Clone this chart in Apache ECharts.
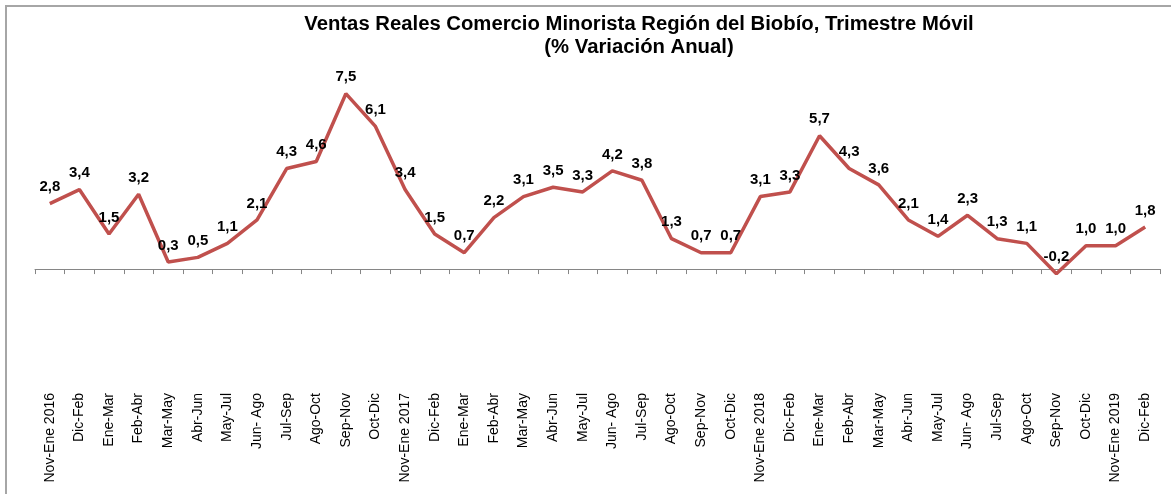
<!DOCTYPE html>
<html>
<head>
<meta charset="utf-8">
<script src="https://cdn.jsdelivr.net/npm/echarts@6/dist/echarts.min.js"></script>
<style>
  html, body { margin: 0; padding: 0; background: #fff; }
  #frame {
    position: absolute; left: 5px; top: 5px; right: -4px; bottom: -4px;
    border-top: 2px solid #a6a6a6; border-left: 2px solid #a6a6a6;
  }
  #chart { position: absolute; left: 0; top: 0; width: 1171px; height: 494px; }
</style>
</head>
<body>
<div id="frame"></div>
<div id="chart"></div>
<script>
const categories = [
  'Nov-Ene 2016', 'Dic-Feb', 'Ene-Mar', 'Feb-Abr', 'Mar-May', 'Abr-Jun', 'May-Jul', 'Jun- Ago',
  'Jul-Sep', 'Ago-Oct', 'Sep-Nov', 'Oct-Dic',
  'Nov-Ene 2017', 'Dic-Feb', 'Ene-Mar', 'Feb-Abr', 'Mar-May', 'Abr-Jun', 'May-Jul', 'Jun- Ago',
  'Jul-Sep', 'Ago-Oct', 'Sep-Nov', 'Oct-Dic',
  'Nov-Ene 2018', 'Dic-Feb', 'Ene-Mar', 'Feb-Abr', 'Mar-May', 'Abr-Jun', 'May-Jul', 'Jun- Ago',
  'Jul-Sep', 'Ago-Oct', 'Sep-Nov', 'Oct-Dic',
  'Nov-Ene 2019', 'Dic-Feb'
]
const variation = [
  2.8, 3.4, 1.5, 3.2, 0.3, 0.5, 1.1, 2.1, 4.3, 4.6, 7.5, 6.1,
  3.4, 1.5, 0.7, 2.2, 3.1, 3.5, 3.3, 4.2, 3.8, 1.3, 0.7, 0.7,
  3.1, 3.3, 5.7, 4.3, 3.6, 2.1, 1.4, 2.3, 1.3, 1.1, -0.2, 1.0,
  1.0, 1.8
]

const chart = echarts.init(document.getElementById('chart'))
const font = 'Arial, "Liberation Sans", sans-serif'
const fmt = v => v.toFixed(1).replace('.', ',')

chart.setOption({
  animation: false,
  title: {
    text: 'Ventas Reales Comercio Minorista Región del Biobío, Trimestre Móvil\n(% Variación Anual)',
    left: 634, top: 8, textAlign: 'center',
    textStyle: { fontFamily: font, fontSize: 20.3, fontWeight: 'bold', color: '#000', lineHeight: 23 }
  },
  grid: { left: 35, right: 11, top: 82, bottom: 108 },
  xAxis: [
    {
      type: 'category', data: categories, boundaryGap: true,
      axisLine: { onZero: true, lineStyle: { color: '#868686', width: 1 } },
      axisTick: { show: true, interval: 0, length: 5, lineStyle: { color: '#868686' } },
      axisLabel: { show: false }
    },
    {
      type: 'category', data: categories, position: 'bottom',
      axisLine: { show: false, onZero: false }, axisTick: { show: false },
      axisLabel: {
        rotate: 90, interval: 0, margin: 7,
        fontFamily: font, fontSize: 14, color: '#000'
      }
    }
  ],
  yAxis: {
    type: 'value', min: -5, max: 8, show: false
  },
  series: [{
    type: 'line', data: variation, xAxisIndex: 0,
    symbol: 'circle', symbolSize: 2, showSymbol: true,
    itemStyle: { color: 'rgba(192,80,77,0)' },
    lineStyle: { color: '#c0504d', width: 3.5 },
    label: {
      show: true, position: 'top', distance: 8,
      fontFamily: font, fontSize: 15, fontWeight: 'bold', color: '#000',
      formatter: p => fmt(p.value)
    }
  }]
})
</script>
</body>
</html>
